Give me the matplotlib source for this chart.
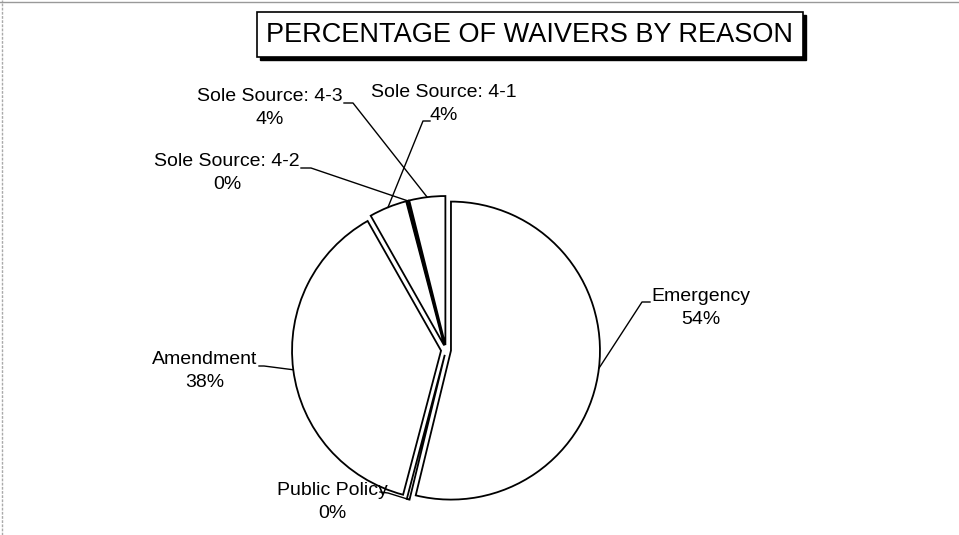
import numpy as np
import matplotlib
matplotlib.use("Agg")
import matplotlib.pyplot as plt
from matplotlib.patches import Rectangle

plt.rcParams['font.family'] = ['Liberation Sans', 'DejaVu Sans']

W, H = 959, 535

# slices, clockwise from 12 o'clock
reasons = ['Emergency', 'Public Policy', 'Amendment',
           'Sole Source: 4-1', 'Sole Source: 4-2', 'Sole Source: 4-3']
shares = [53.8, 0.3, 37.7, 4.1, 0.2, 3.9]

# label layout (pixel coords from top-left): text centre, leader start, leader knee
label_pos = {
    'Emergency':        ((701, 308), (650, 302), (642, 302)),
    'Public Policy':    ((332, 502), (380, 492), (388, 493)),
    'Amendment':        ((205, 371), (259, 366), (264, 366)),
    'Sole Source: 4-1': ((444, 104), (430, 121), (423, 121)),
    'Sole Source: 4-2': ((227, 173), (301, 168), (311, 168)),
    'Sole Source: 4-3': ((270, 108), (344, 103), (353, 103)),
}

fig = plt.figure(figsize=(W / 100, H / 100), dpi=100)
ax = fig.add_axes([0, 0, 1, 1])

wedges, _ = ax.pie(shares, startangle=90, counterclock=False,
                   center=(446, H - 350), radius=149,
                   explode=[5] * len(shares),
                   wedgeprops=dict(facecolor='white', edgecolor='black', linewidth=1.3))

ax.set_xlim(0, W)
ax.set_ylim(0, H)
ax.set_aspect('auto')
ax.axis('off')

for w, name, val in zip(wedges, reasons, shares):
    (tx, ty), (sx, sy), (kx, ky) = label_pos[name]
    tm = np.radians((w.theta1 + w.theta2) / 2)
    ex = w.center[0] + w.r * np.cos(tm)
    ey = w.center[1] + w.r * np.sin(tm)
    ax.plot([sx, kx, ex], [H - sy, H - ky, ey], color='black', lw=1.0)
    ax.text(tx, H - ty, '%s\n%d%%' % (name, round(val)), ha='center', va='center',
            fontsize=14, linespacing=1.4, multialignment='center')

# title box with shadow
ax.add_patch(Rectangle((260, H - 60), 546, 45, facecolor='black', edgecolor='black'))
ax.add_patch(Rectangle((257, H - 57), 546, 45, facecolor='white', edgecolor='black', lw=1.2))
ax.text(529, H - 35, 'PERCENTAGE OF WAIVERS BY REASON', ha='center', va='center', fontsize=19.5)

# faint scan border
ax.plot([0, W], [H - 1.5, H - 1.5], color='#999999', lw=1)
ax.plot([1.5, 1.5], [0, H], color='#aaaaaa', lw=1, ls=(0, (2, 1)))

fig.savefig('out.png', dpi=100)
